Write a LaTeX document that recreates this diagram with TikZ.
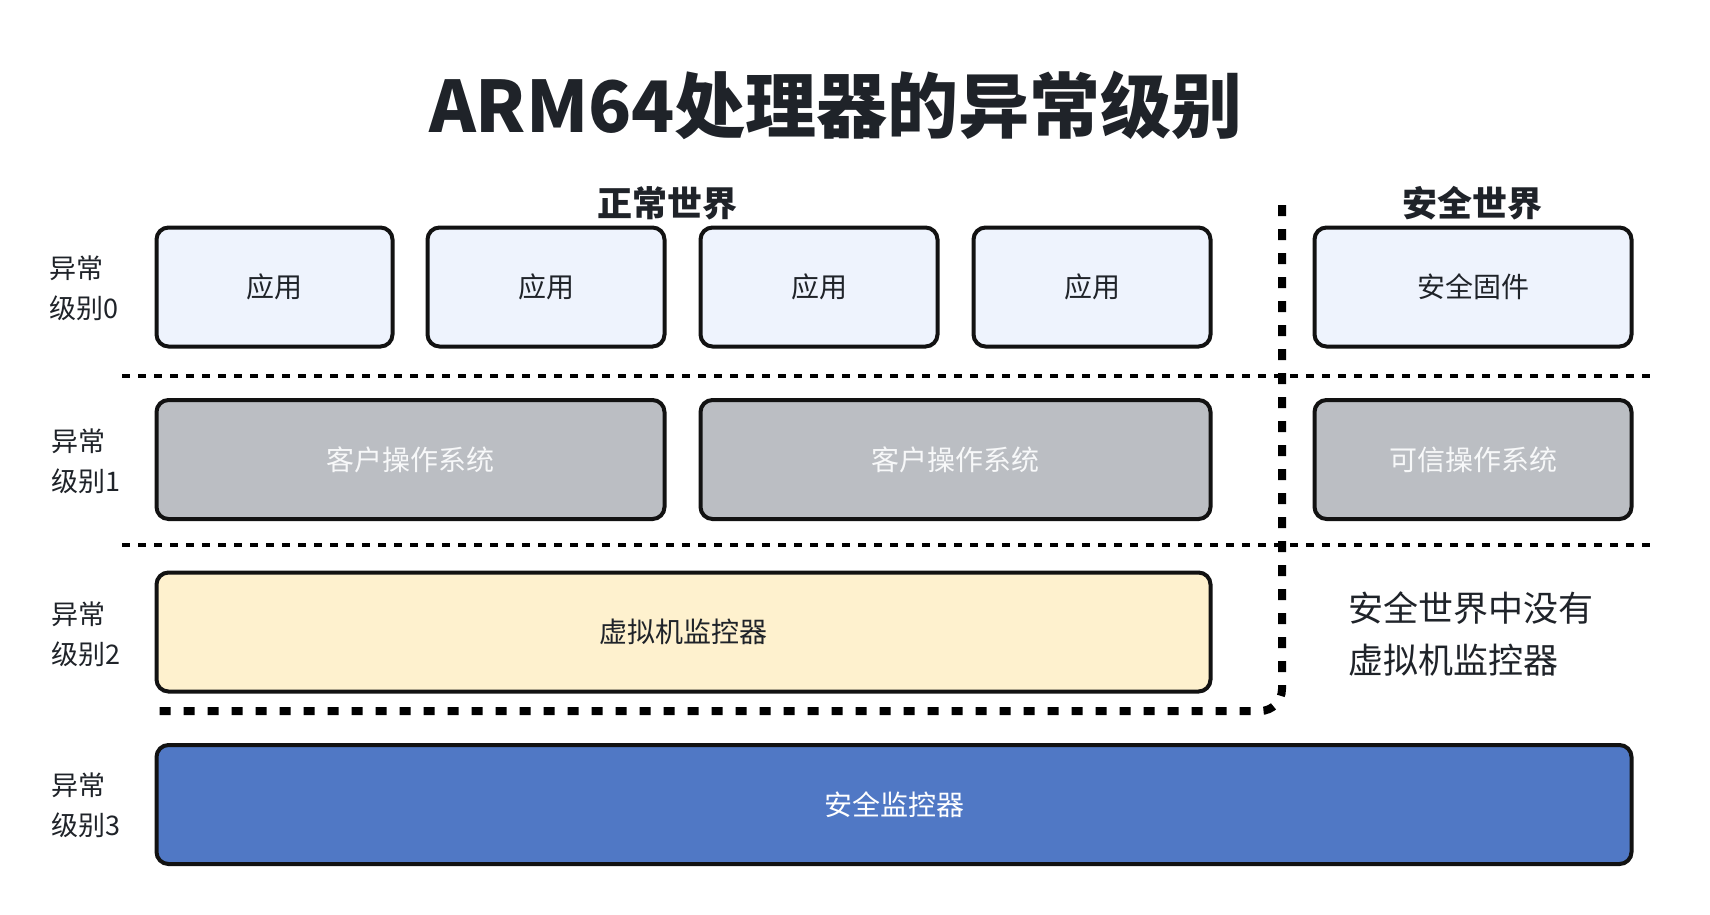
\documentclass[tikz,border=0pt]{standalone}
\usepackage{fontspec}
\setmainfont{Noto Sans CJK SC}
\definecolor{txt}{HTML}{1F2329}
\definecolor{appfill}{HTML}{EEF3FD}
\definecolor{grayfill}{HTML}{BBBEC3}
\definecolor{grayTxt}{HTML}{F7F8F9}
\definecolor{yelfill}{HTML}{FEF1CE}
\definecolor{bluefill}{HTML}{5078C5}
\begin{document}
\begin{tikzpicture}[x=1pt,y=-1pt,
  box/.style={draw=black!93, line width=4pt, rounded corners=12pt, inner sep=0pt,
    minimum height=119pt, font=\fontsize{28}{32}\selectfont},
  appbox/.style={box, fill=appfill, text=txt},
  osbox/.style={box, fill=grayfill, text=grayTxt},
  lvl/.style={anchor=west, align=left, text=txt, inner sep=0pt, font=\fontsize{27}{40}\selectfont},
  thindot/.style={line width=3.5pt, dash pattern=on 8pt off 8pt},
  thickdot/.style={line width=8pt, dash pattern=on 11pt off 13pt}
]
\useasboundingbox (0,0) rectangle (1710,914);
\fill[white] (0,0) rectangle (1710,914);

% title and headers
\node[text=txt, font=\fontsize{71}{80}\selectfont\bfseries] (title) at (836,105) {ARM64处理器的异常级别};
\node[text=txt, font=\fontsize{35}{40}\selectfont\bfseries] (normal) at (667,203) {正常世界};
\node[text=txt, font=\fontsize{35}{40}\selectfont\bfseries] (secure) at (1472,203) {安全世界};

% separators
\draw[thindot] (122,376) coordinate (l1a) -- (1650,376) coordinate (l1b);
\draw[thindot] (122,545) coordinate (l2a) -- (1650,545) coordinate (l2b);
\draw[thickdot, rounded corners=22pt] (1282,205) coordinate (va) -- (1282,711) -- (158,711) coordinate (vb);

% EL0
\node[appbox, minimum width=236pt] (app1) at (274.5,287) {应用};
\node[appbox, minimum width=237pt] (app2) at (546,287) {应用};
\node[appbox, minimum width=237pt] (app3) at (819,287) {应用};
\node[appbox, minimum width=237pt] (app4) at (1092,287) {应用};
\node[appbox, minimum width=317pt] (sfw) at (1473,287) {安全固件};

% EL1
\node[osbox, minimum width=508pt] (gos1) at (410.5,459.5) {客户操作系统};
\node[osbox, minimum width=510pt] (gos2) at (955.5,459.5) {客户操作系统};
\node[osbox, minimum width=317pt] (tos) at (1473,459.5) {可信操作系统};

% EL2
\node[box, fill=yelfill, text=txt, minimum width=1054pt] (hyp) at (683.5,632) {虚拟机监控器};
\node[anchor=west, align=left, text=txt, inner sep=0pt, font=\fontsize{35}{52}\selectfont] (nohyp) at (1348,633.5) {安全世界中没有\\虚拟机监控器};

% EL3
\node[box, fill=bluefill, text=white, minimum width=1475pt] (smon) at (894,804.5) {安全监控器};

% level labels
\node[lvl] (el0) at (49,288.5) {异常\\级别0};
\node[lvl] (el1) at (51,461.5) {异常\\级别1};
\node[lvl] (el2) at (51,634) {异常\\级别2};
\node[lvl] (el3) at (51,805.5) {异常\\级别3};
\end{tikzpicture}
\end{document}
